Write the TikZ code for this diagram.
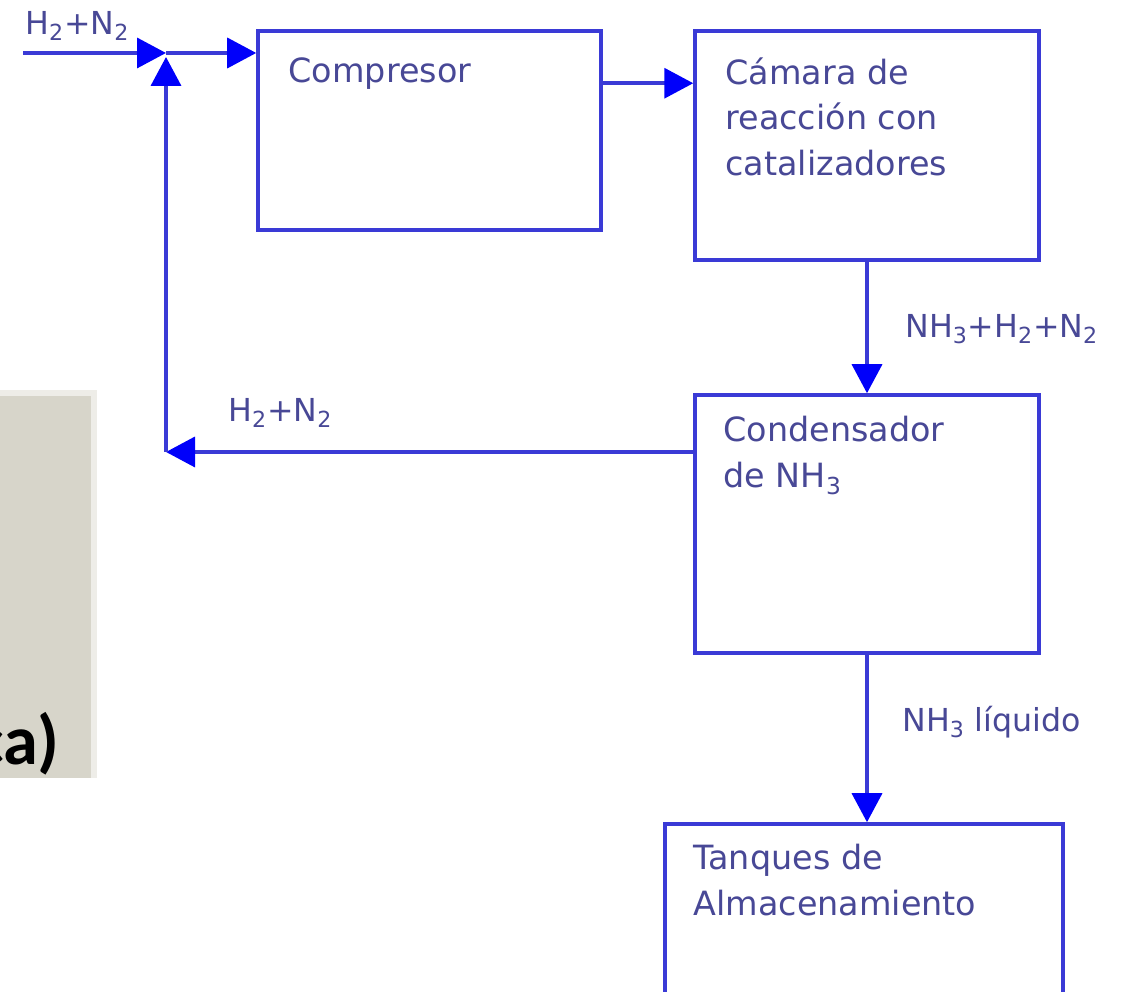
\documentclass[tikz,border=0pt]{standalone}
\usepackage{fontspec}
\setmainfont{DejaVu Sans}
\newfontfamily\slidefont{Carlito}
\usepackage{xcolor}
\usetikzlibrary{arrows.meta,positioning,calc}
\definecolor{linkblue}{RGB}{58,58,214}
\definecolor{tipblue}{RGB}{0,0,250}
\definecolor{textblue}{RGB}{72,72,150}
\definecolor{slidegray}{RGB}{215,213,202}
\definecolor{shadowgray}{RGB}{238,237,232}

\begin{document}
\begin{tikzpicture}[
    % Block and stream styles
    unit/.style={rectangle, draw=linkblue, line width=2pt, inner sep=0pt},
    unittext/.style={anchor=north west, inner sep=0pt, align=left, text=textblue, font=\fontsize{19}{26}\selectfont},
    stream/.style={anchor=base west, inner sep=0pt, text=textblue, font=\fontsize{18}{22}\selectfont},
    arrow/.style={line width=2pt, draw=linkblue, -{Triangle[length=0.58cm, width=0.6cm, color=tipblue]}}
]
\clip (0,0) rectangle (22.46,19.84);
\fill[white] (0,0) rectangle (22.46,19.84);

% Slide panel on the left
\fill[shadowgray] (0,4.28) rectangle (1.94,12.04);
\node[rectangle, fill=slidegray, minimum width=1.82cm, minimum height=7.64cm, anchor=south west, inner sep=0pt] (panel) at (0,4.28) {};
\node[anchor=base east, inner sep=0pt, font=\slidefont\bfseries\fontsize{40}{40}\selectfont] (panellabel) at (1.2,4.54) {ca)};

% Process units
\node[unit, minimum width=6.86cm, minimum height=3.98cm] (comp) at (8.59,17.23) {};
\node[unit, minimum width=6.88cm, minimum height=4.58cm] (cam) at (17.34,16.93) {};
\node[unit, minimum width=6.88cm, minimum height=5.16cm] (cond) at (17.34,9.36) {};
\node[unit, minimum width=7.96cm, minimum height=3.72cm] (tank) at (17.28,1.5) {};

\node[unittext] (comptext) at ([shift={(0.64,-0.56)}]comp.north west) {Compresor};
\node[unittext] (camtext) at ([shift={(0.64,-0.56)}]cam.north west) {Cámara de\\reacción con\\catalizadores};
\node[unittext] (condtext) at ([shift={(0.6,-0.46)}]cond.north west) {Condensador\\de NH\textsubscript{3}};
\node[unittext] (tanktext) at ([shift={(0.6,-0.44)}]tank.north west) {Tanques de\\Almacenamiento};

% Feed and recycle points
\coordinate (feed) at (0.46,18.78);
\coordinate (mix) at (3.32,18.78);
\coordinate (ret) at (3.32,10.8);

% Main flow
\draw[arrow] (feed) -- (mix);
\draw[arrow] (mix) -- (comp.west |- mix);
\draw[arrow] ([yshift=-1.08cm]comp.north east) -- ([yshift=-1.08cm]cam.north west);
\draw[arrow] (cam.south) -- (cond.north);
\draw[arrow] (cond.south) -- (cond.south |- tank.north);

% Recycle of unreacted gas
\draw[arrow] (cond.west |- ret) -- (ret);
\draw[arrow] (ret) -- ([yshift=-0.08cm]mix);

% Stream labels
\node[stream] (feedlabel) at (0.5,19.14) {H\textsubscript{2}+N\textsubscript{2}};
\node[stream] (gaslabel) at (18.1,13.08) {NH\textsubscript{3}+H\textsubscript{2}+N\textsubscript{2}};
\node[stream] (retlabel) at (4.56,11.4) {H\textsubscript{2}+N\textsubscript{2}};
\node[stream] (liqlabel) at (18.04,5.2) {NH\textsubscript{3} líquido};

\end{tikzpicture}
\end{document}
